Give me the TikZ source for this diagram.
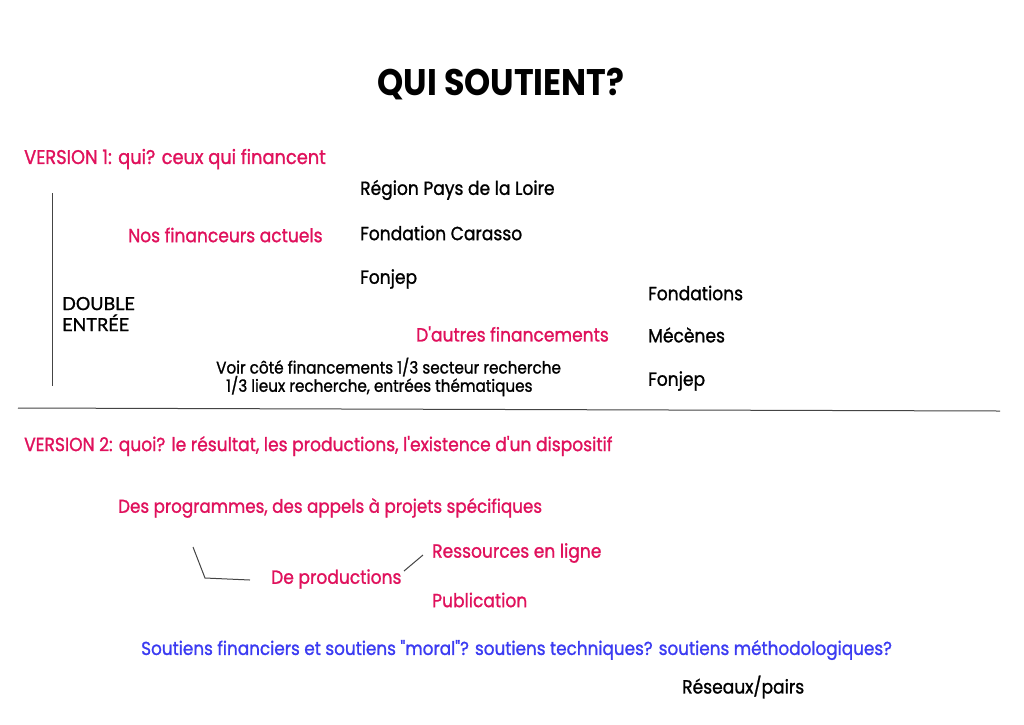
\documentclass[tikz,border=0pt]{standalone}
\usepackage{fontspec}
\setmainfont[FakeStretch=0.9,FakeBold=1.2,Ligatures=TeXOff]{Poppins}
\newfontfamily\titlefont[FakeStretch=0.9,Ligatures=TeXOff]{Poppins Bold}
\newfontfamily\gillish[FakeBold=1.2]{Lato}
\definecolor{pinkc}{HTML}{E0115C}
\definecolor{bluec}{HTML}{3B3BF2}
\definecolor{linec}{HTML}{444444}
\begin{document}
\begin{tikzpicture}[x=1pt,y=-1pt,
  txt/.style={anchor=west,inner sep=0pt,font=\fontsize{19}{22}\selectfont},
  small/.style={anchor=west,inner sep=0pt,font=\fontsize{16.9}{19}\selectfont},
  pk/.style={txt,text=pinkc},
  bl/.style={txt,text=bluec},
  conn/.style={draw=linec,line width=1pt}]
\useasboundingbox[fill=white] (0,0) rectangle (1024,724);
\node[inner sep=0pt,font=\titlefont\fontsize{37}{42}\selectfont] (title) at (501,84) {QUI SOUTIENT?};
\node[pk,font=\fontsize{19.8}{22}\selectfont] (v1) at (24,159) {VERSION 1: qui? ceux qui financent};
\node[txt] (region) at (360,190) {Région Pays de la Loire};
\node[pk] (nos) at (128,235) {Nos financeurs actuels};
\node[txt] (carasso) at (360,233) {Fondation Carasso};
\node[txt] (fonjep1) at (360,279) {Fonjep};
\node[txt] (fondations) at (648,293) {Fondations};
\node[anchor=west,inner sep=0pt,align=left,font=\gillish\fontsize{18}{21}\selectfont] (double) at (62,314) {DOUBLE\\ENTRÉE};
\node[pk] (autres) at (416,334) {D'autres financements};
\node[txt] (mecenes) at (648,335) {Mécènes};
\node[small] (voir1) at (216,367) {Voir côté financements 1/3 secteur recherche};
\node[small] (voir2) at (226,386) {1/3 lieux recherche, entrées thématiques};
\node[txt] (fonjep2) at (648,381) {Fonjep};
\coordinate (vt) at (52,193);
\coordinate (vb) at (52,386);
\draw[conn] (vt) -- (vb);
\coordinate (hl) at (18,408);
\coordinate (hr) at (1000,411);
\draw[conn] (hl) -- (hr);
\node[pk] (v2) at (24,446) {VERSION 2: quoi? le résultat, les productions, l'existence d'un dispositif};
\node[pk,font=\fontsize{18.6}{22}\selectfont] (prog) at (118,508) {Des programmes, des appels à projets spécifiques};
\node[pk] (prod) at (271,579) {De productions};
\node[pk] (res) at (432,553) {Ressources en ligne};
\node[pk] (pub) at (432,600) {Publication};
\coordinate (a1) at (193,547);
\coordinate (a2) at (205,578);
\coordinate (a3) at (250,580);
\draw[conn] (a1) -- (a2) -- (a3);
\coordinate (b1) at (404,571);
\coordinate (b2) at (423,555);
\draw[conn] (b1) -- (b2);
\node[bl,font=\fontsize{18.7}{22}\selectfont] (sout) at (141,650) {Soutiens financiers et soutiens "moral"? soutiens techniques? soutiens méthodologiques?};
\node[txt] (reseaux) at (682,687) {Réseaux/pairs};
\end{tikzpicture}
\end{document}
